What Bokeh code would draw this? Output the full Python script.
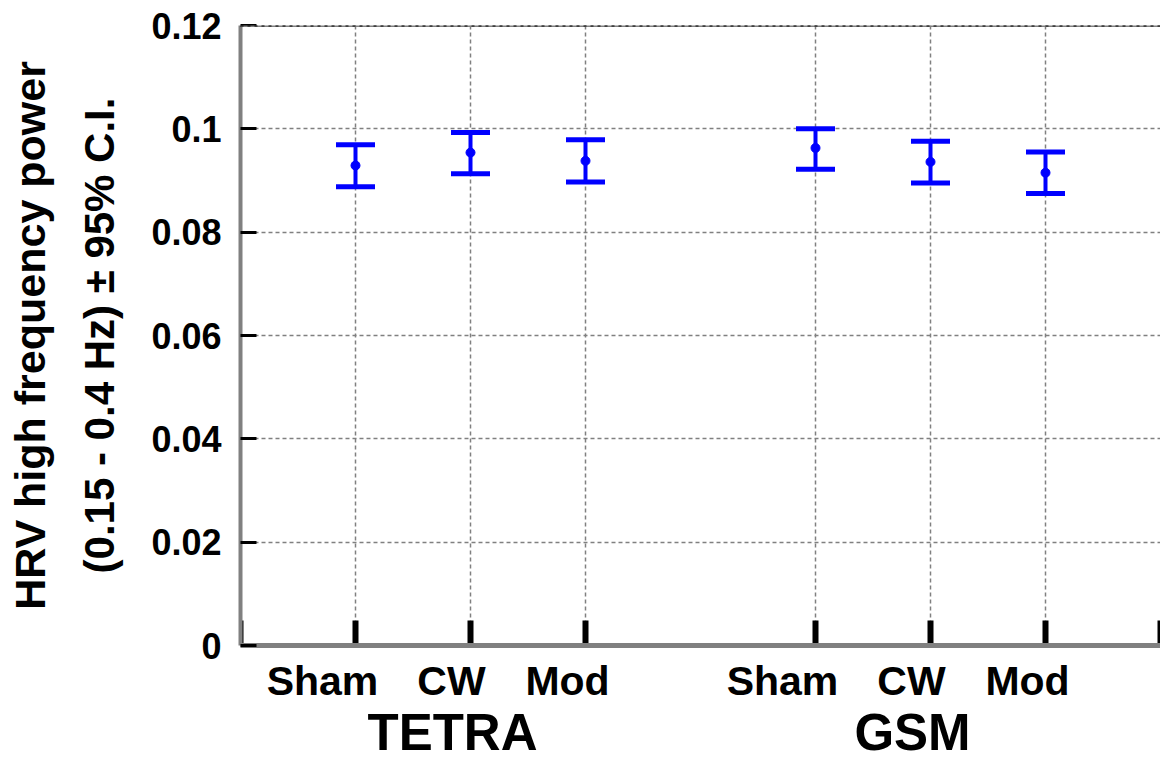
from bokeh.plotting import figure
from bokeh.models import (ColumnDataSource, Whisker, TeeHead, FixedTicker, LinearAxis,
                          CustomJSTickFormatter, Span)
from bokeh.embed import file_html
from bokeh.resources import INLINE

# ---------------- data ----------------
groups = ["TETRA", "GSM"]
categories = ["Sham", "CW", "Mod"]
tetra_mean = [0.0929, 0.0954, 0.0938]
tetra_lower = [0.0888, 0.0913, 0.0897]
tetra_upper = [0.0969, 0.0993, 0.0979]
gsm_mean = [0.0963, 0.0936, 0.0915]
gsm_lower = [0.0922, 0.0895, 0.0875]
gsm_upper = [0.1000, 0.0976, 0.0955]
y_ticks = [0, 0.02, 0.04, 0.06, 0.08, 0.1, 0.12]
y_label_1 = "HRV high frequency power"
y_label_2 = "(0.15 - 0.4 Hz) \u00b1 95% C.I."

# ---------------- styling constants ----------------
FRAME_W, FRAME_H = 920, 620
cat_label_shift_px = [-33, -19, -18]
group_label_shift_px = -18
x_tick_len_px = 25

# ---------------- layout of categories ----------------
step = len(categories) + 1
xs, means, lows, highs, names, label_pos = [], [], [], [], [], []
x_end = len(groups) * step
unit_px = FRAME_W / x_end
for g, (m, lo, hi) in enumerate([(tetra_mean, tetra_lower, tetra_upper),
                                 (gsm_mean, gsm_lower, gsm_upper)]):
    for i, c in enumerate(categories):
        x = g * step + i + 1
        xs.append(x)
        label_pos.append(x + cat_label_shift_px[i] / unit_px)
        means.append(m[i]); lows.append(lo[i]); highs.append(hi[i]); names.append(c)
group_centers = [g * step + (len(categories) + 1) / 2 + group_label_shift_px / unit_px
                 for g in range(len(groups))]
tick_xs = [0] + xs + [x_end]
tick_top = x_tick_len_px * y_ticks[-1] / FRAME_H

src = ColumnDataSource(dict(x=xs, y=means, lower=lows, upper=highs))

FONT = "Liberation Sans"
BLUE = "#0000ff"
GRAY = "#808080"

p = figure(width=1160, height=764, x_range=(0, x_end), y_range=(0, y_ticks[-1]),
           output_backend="svg", toolbar_location=None,
           min_border_left=240, min_border_top=25, min_border_right=0, min_border_bottom=119)
p.outline_line_color = None
p.background_fill_color = "white"
p.border_fill_color = "white"

# grids
p.xgrid.ticker = FixedTicker(ticks=xs)
p.ygrid.ticker = FixedTicker(ticks=y_ticks)
for gr in (p.xgrid[0], p.ygrid[0]):
    gr.grid_line_color = GRAY
    gr.grid_line_dash = "4 3"
    gr.grid_line_width = 1.5

# x axis: line only
xa = p.xaxis[0]
xa.ticker = FixedTicker(ticks=[])
xa.axis_line_color = GRAY
xa.axis_line_width = 5
xa.major_tick_line_color = None
xa.minor_tick_line_color = None
xa.major_label_standoff = 0

# x tick marks (thick, pointing inwards)
p.segment(x0=tick_xs, y0=[0] * len(tick_xs), x1=tick_xs, y1=[tick_top] * len(tick_xs),
          line_color="black", line_width=6, line_cap="butt")

# category labels
xc = LinearAxis(ticker=FixedTicker(ticks=label_pos),
                formatter=CustomJSTickFormatter(args=dict(names=names),
                                                code="return names[index];"),
                axis_line_color=None, major_tick_line_color=None, minor_tick_line_color=None,
                major_tick_in=0, major_tick_out=0,
                major_label_text_font=FONT, major_label_text_font_style="bold",
                major_label_text_font_size="41px", major_label_text_color="black",
                major_label_standoff=12)
p.add_layout(xc, "below")

# group labels
xg = LinearAxis(ticker=FixedTicker(ticks=group_centers),
                formatter=CustomJSTickFormatter(args=dict(names=groups),
                                                code="return names[index];"),
                axis_line_color=None, major_tick_line_color=None, minor_tick_line_color=None,
                major_tick_in=0, major_tick_out=0,
                major_label_text_font=FONT, major_label_text_font_style="bold",
                major_label_text_font_size="51px", major_label_text_color="black",
                major_label_standoff=-3)
p.add_layout(xg, "below")

# y axis
ya = p.yaxis[0]
ya.ticker = FixedTicker(ticks=y_ticks)
ya.formatter = CustomJSTickFormatter(code="return String(Number(tick.toFixed(4)));")
ya.major_label_text_font = FONT
ya.major_label_text_font_style = "bold"
ya.major_label_text_font_size = "36px"
ya.major_label_text_color = "black"
ya.major_label_standoff = 19
ya.axis_line_color = GRAY
ya.axis_line_width = 4
ya.major_tick_line_color = "black"
ya.major_tick_line_width = 3
ya.major_tick_in = 16
ya.major_tick_out = 0
ya.minor_tick_line_color = None
ya.axis_label = y_label_2
ya.axis_label_text_font = FONT
ya.axis_label_text_font_style = "bold"
ya.axis_label_text_font_size = "42px"
ya.axis_label_text_color = "black"
ya.axis_label_standoff = 25

ya2 = LinearAxis(ticker=FixedTicker(ticks=[]), axis_line_color=None,
                 major_tick_line_color=None, minor_tick_line_color=None,
                 major_label_standoff=0,
                 axis_label=y_label_1, axis_label_text_font=FONT,
                 axis_label_text_font_style="bold", axis_label_text_font_size="43px",
                 axis_label_text_color="black", axis_label_standoff=20)
p.add_layout(ya2, "left")

p.add_layout(Span(location=y_ticks[-1], dimension="width", line_color=GRAY, line_width=3))
p.add_layout(Span(location=y_ticks[-1], dimension="width", line_color="black",
                  line_width=2, line_dash="3 4"))

# error bars and means
w = Whisker(base="x", upper="upper", lower="lower", source=src,
            line_color=BLUE, line_width=4,
            upper_head=TeeHead(size=39, line_color=BLUE, line_width=5),
            lower_head=TeeHead(size=39, line_color=BLUE, line_width=5))
p.add_layout(w)
p.scatter("x", "y", source=src, size=9, color=BLUE)

open("out.html", "w").write(file_html(p, INLINE))
